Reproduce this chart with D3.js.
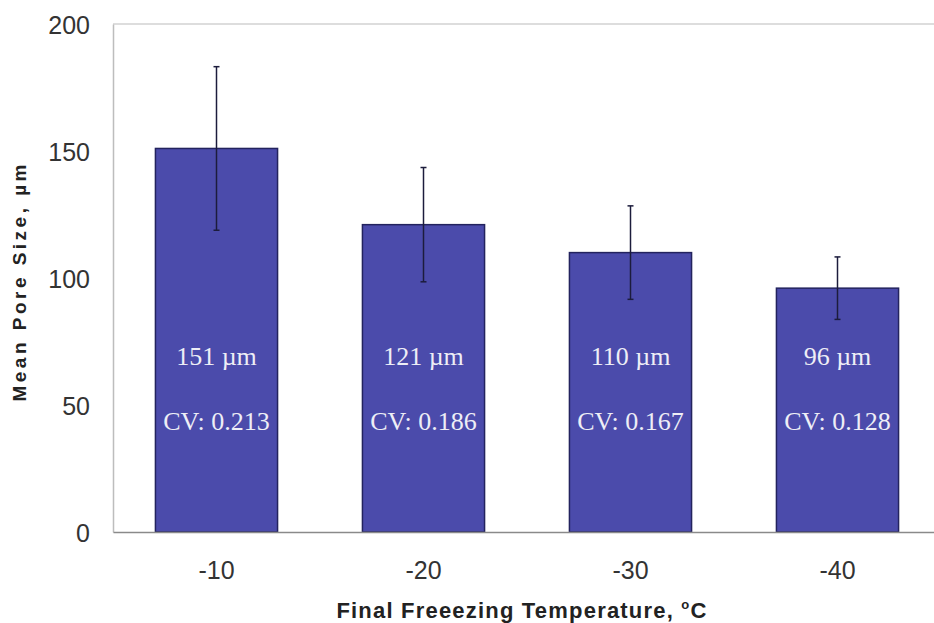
<!DOCTYPE html>
<html>
<head>
<meta charset="utf-8">
<script src="https://cdn.jsdelivr.net/npm/d3@7"></script>
<style>
  body { margin: 0; background: #fff; }
  svg { display: block; }
</style>
</head>
<body>
<div id="chart"></div>
<script>
const temps = ['-10', '-20', '-30', '-40'];
const meanSize = [151, 121, 110, 96];
const errSize = [32.2, 22.5, 18.4, 12.3];
const cvValues = ['0.213', '0.186', '0.167', '0.128'];
const yTicks = [0, 50, 100, 150, 200];

const space = { top: 24, right: -7, bottom: 91, left: 113 };
const W = 934, H = 623;
const w = W - space.left - space.right,
  h = H - space.top - space.bottom;

const svg = d3.select('#chart')
  .append('svg')
  .attr('width', W)
  .attr('height', H)
  .append('g')
  .attr('transform', `translate(${space.left}, ${space.top})`);

const data = temps.map((t, i) => ({ t, v: meanSize[i], e: errSize[i], cv: cvValues[i] }));

const xScale = d3.scaleBand()
  .domain(temps)
  .range([0, w])
  .paddingInner(0.41)
  .paddingOuter(0.205);

const yScale = d3.scaleLinear()
  .domain([0, 200])
  .range([h, 0]);

// frame
svg.append('line')
  .attr('x1', 0).attr('x2', w)
  .attr('y1', 0).attr('y2', 0)
  .style('stroke', '#d2d2d2').style('stroke-width', 1.5);

const yAxis = d3.axisLeft(yScale).tickValues(yTicks).tickSize(0).tickPadding(23);
svg.append('g')
  .attr('id', 'y-axis')
  .call(yAxis)
  .call(g => g.select('.domain').style('stroke', '#bdbdbd').style('stroke-width', 1.5))
  .call(g => g.selectAll('text')
    .attr('dy', '0.36em')
    .style('font-family', 'Liberation Sans, Arial, sans-serif')
    .style('font-size', '25px')
    .style('fill', '#333'));

// bars
svg.selectAll('.bar')
  .data(data)
  .enter()
  .append('rect')
  .attr('class', 'bar')
  .attr('x', d => xScale(d.t))
  .attr('y', d => yScale(d.v))
  .attr('width', xScale.bandwidth())
  .attr('height', d => h - yScale(d.v))
  .style('fill', '#4b4bab')
  .style('stroke', '#23235e')
  .style('stroke-width', 1.5);

const xAxis = d3.axisBottom(xScale).tickSize(0).tickPadding(29);
svg.append('g')
  .attr('id', 'x-axis')
  .attr('transform', `translate(0, ${h})`)
  .call(xAxis)
  .call(g => g.select('.domain').style('stroke', '#8a8a8a').style('stroke-width', 1.5))
  .call(g => g.selectAll('text')
    .style('font-family', 'Liberation Sans, Arial, sans-serif')
    .style('font-size', '25px')
    .style('fill', '#333'));

// error bars
const err = svg.selectAll('.err')
  .data(data)
  .enter()
  .append('g')
  .attr('class', 'err')
  .attr('transform', d => `translate(${xScale(d.t) + xScale.bandwidth() / 2}, 0)`);

err.append('line')
  .attr('y1', d => yScale(d.v + d.e))
  .attr('y2', d => yScale(d.v - d.e))
  .style('stroke', '#1c1c3c').style('stroke-width', 1.5);
err.append('line')
  .attr('x1', -3).attr('x2', 3)
  .attr('y1', d => yScale(d.v + d.e)).attr('y2', d => yScale(d.v + d.e))
  .style('stroke', '#1c1c3c').style('stroke-width', 1.5);
err.append('line')
  .attr('x1', -3).attr('x2', 3)
  .attr('y1', d => yScale(d.v - d.e)).attr('y2', d => yScale(d.v - d.e))
  .style('stroke', '#1c1c3c').style('stroke-width', 1.5);

// labels inside bars
svg.selectAll('.lbl1')
  .data(data)
  .enter()
  .append('text')
  .attr('class', 'lbl1')
  .attr('x', d => xScale(d.t) + xScale.bandwidth() / 2)
  .attr('y', 365 - space.top)
  .style('text-anchor', 'middle')
  .style('font-family', 'Liberation Serif, Times New Roman, serif')
  .style('font-size', '26px')
  .style('fill', '#eeeef6')
  .text(d => `${d.v} µm`);

svg.selectAll('.lbl2')
  .data(data)
  .enter()
  .append('text')
  .attr('class', 'lbl2')
  .attr('x', d => xScale(d.t) + xScale.bandwidth() / 2)
  .attr('y', 430 - space.top)
  .style('text-anchor', 'middle')
  .style('font-family', 'Liberation Serif, Times New Roman, serif')
  .style('font-size', '26px')
  .style('fill', '#eeeef6')
  .text(d => `CV: ${d.cv}`);

// axis titles
const xt = svg.append('text')
  .attr('x', 522 - space.left)
  .attr('y', 618 - space.top)
  .style('text-anchor', 'middle')
  .style('font-family', 'Liberation Sans, Arial, sans-serif')
  .style('font-size', '22px')
  .style('letter-spacing', '1.2px')
  .style('font-weight', 'bold')
  .style('fill', '#222');
xt.append('tspan').text('Final Freeezing Temperature, ');
xt.append('tspan').attr('dy', -9).style('font-size', '13px').text('o');
xt.append('tspan').attr('dy', 9).text('C');

svg.append('text')
  .attr('transform', `translate(${26 - space.left}, ${283 - space.top}) rotate(-90)`)
  .attr('textLength', 237)
  .attr('lengthAdjust', 'spacing')
  .style('text-anchor', 'middle')
  .style('font-family', 'Liberation Sans, Arial, sans-serif')
  .style('font-size', '19px')
  .style('font-weight', 'bold')
  .style('fill', '#222')
  .text('Mean Pore Size, µm');
</script>
</body>
</html>
